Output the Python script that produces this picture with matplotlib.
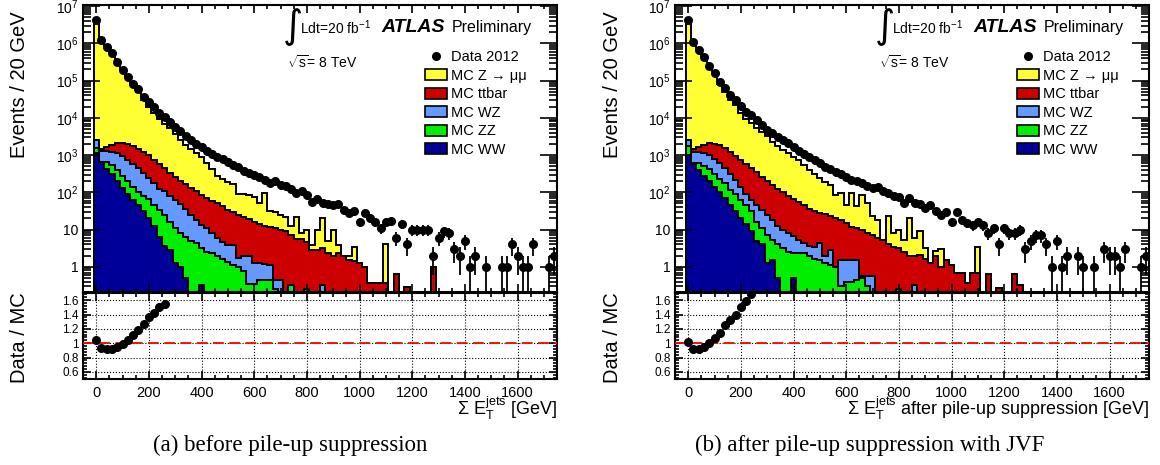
import numpy as np
import matplotlib
matplotlib.use("Agg")
import matplotlib.pyplot as plt
from matplotlib.patches import Patch
from matplotlib.lines import Line2D
from matplotlib.ticker import LogLocator, MultipleLocator, FuncFormatter, NullFormatter, FixedLocator

plt.rcParams['font.family'] = ['Liberation Sans', 'DejaVu Sans']
plt.rcParams['mathtext.fontset'] = 'custom'
plt.rcParams['mathtext.rm'] = 'Liberation Sans'
plt.rcParams['mathtext.it'] = 'Liberation Sans:italic'
plt.rcParams['mathtext.bf'] = 'Liberation Sans:bold'

# 20 GeV bins, centres 0 ... 1740
bin_edges = np.arange(-10, 1751, 20)
bin_centers = np.arange(0, 1741, 20)

# ---- (a) before pile-up suppression ----
a_data = [4.2e6, 1.26e6, 8.1e5, 5.4e5, 3.2e5, 1.9e5, 1.26e5, 8.3e4, 5.8e4, 3.7e4,
          2.7e4, 1.9e4, 1.38e4, 1.03e4, 7900, 5800, 4500, 3200, 2500, 2000,
          1600, 1300, 1100, 910, 770, 660, 550, 470, 380, 325,
          295, 252, 214, 182, 205, 155, 150, 120, 98, 105,
          85, 56, 65, 51, 49, 46, 48, 34, 27, 32,
          16, 27, 21, 16, 11, 16, 17, 6, 14, 4,
          10, 10, 10, 10, 2, 6, 9, 8, 3, 2,
          5, 1, 2, 0, 1, 0, 0, 1, 1, 4,
          2, 1, 1, 4, 0, 0, 1, 2]
a_ratio = [1.047, 0.935, 0.916, 0.916, 0.95, 0.986, 1.047, 1.11, 1.177, 1.27, 1.367, 1.42, 1.51, 1.544]

# stack heights (cumulative, as drawn): Z->mumu on top of ttbar on top of WZ on top of ZZ on top of WW
a_zmumu = [4.0e6, 1.35e6, 8.85e5, 5.9e5, 3.4e5, 1.94e5, 1.21e5, 7.5e4, 4.96e4, 2.94e4,
           1.99e4, 1.35e4, 9200, 6700, 5200, 3700, 2600, 1900, 1480, 1150,
           890, 630, 420, 280, 224, 190, 166, 89, 89, 85,
           76, 51, 95, 32, 30, 25, 22, 12.6, 22, 7.9,
           9.8, 3.9, 9.8, 20, 5.0, 10, 3.9, 1.9, 2.0, 3.5,
           1.26, 1.0, 0.36, 0.36, 0.36, 4.0, 0, 0.62, 0, 0.28,
           0, 0, 0, 0, 1.0, 0, 0, 0, 0, 0,
           0, 0, 0, 0, 0, 0, 0, 0, 0, 0,
           0, 0, 0, 0, 0, 0, 0, 0]
a_ttbar = [2512, 1413, 1660, 1905, 2089, 2138, 1995, 1738, 1479, 1230,
           1000, 759, 575, 447, 339, 257, 204, 162, 132, 105,
           85, 69, 59, 51, 42, 34, 29, 24.5, 21.4, 18.6,
           15.8, 14.5, 12.6, 11.5, 11, 10, 9.3, 7.0, 5.5, 5.5,
           4.6, 2.9, 2.8, 3.2, 2.34, 2.0, 2.34, 1.9, 1.55, 1.41,
           1.26, 1.0, 0.36, 0.36, 0.36, 0.36, 0, 0.62, 0, 0.28,
           0, 0, 0, 0, 1.0, 0, 0, 0, 0, 0,
           0, 0, 0, 0, 0, 0, 0, 0, 0, 0,
           0, 0, 0, 0, 0, 0, 0, 0]
a_wz = [2512, 1318, 1259, 1230, 1122, 955, 759, 575, 437, 331,
        240, 178, 126, 105, 79, 63, 48, 35.5, 25, 18.2,
        13.2, 11, 7.9, 5.9, 4.5, 3.9, 3.9, 1.7, 1.9, 1.9,
        1.26, 1.26, 1.2, 1.1, 0.45, 0.45, 0, 0, 0, 0,
        0, 0, 0, 0.32, 0, 0, 0, 0, 0, 0,
        0, 0, 0, 0, 0, 0, 0, 0, 0, 0,
        0, 0, 0, 0, 0, 0, 0, 0, 0, 0,
        0, 0, 0, 0, 0, 0, 0, 0, 0, 0,
        0, 0, 0, 0, 0, 0, 0, 0]
a_zz = [1514, 661, 631, 525, 398, 282, 200, 141, 100, 78,
        65, 45, 33, 24, 16, 11, 7.9, 6.3, 5.0, 4.4,
        3.16, 2.5, 2.34, 2.0, 1.58, 1.32, 1.12, 1.0, 0.79, 0.35,
        0.35, 0.45, 0.45, 0.45, 0.25, 0, 0, 0.32, 0, 0,
        0.25, 0, 0, 0, 0, 0, 0, 0, 0, 0,
        0, 0, 0, 0, 0, 0, 0, 0, 0, 0,
        0, 0, 0, 0, 0, 0, 0, 0, 0, 0,
        0, 0, 0, 0, 0, 0, 0, 0, 0, 0,
        0, 0, 0, 0, 0, 0, 0, 0]
a_ww = [1122, 631, 417, 302, 200, 132, 89, 63, 45, 31.6,
        20, 12.6, 6.3, 3.55, 2.8, 1.26, 1.0, 0.5, 0, 0,
        0.32, 0, 0, 0, 0, 0, 0, 0, 0, 0,
        0, 0, 0, 0, 0, 0, 0, 0, 0, 0,
        0, 0, 0, 0, 0, 0, 0, 0, 0, 0,
        0, 0, 0, 0, 0, 0, 0, 0, 0, 0,
        0, 0, 0, 0, 0, 0, 0, 0, 0, 0,
        0, 0, 0, 0, 0, 0, 0, 0, 0, 0,
        0, 0, 0, 0, 0, 0, 0, 0]

# ---- (b) after pile-up suppression with JVF ----
b_data = [4.2e6, 1.1e6, 6.6e5, 4.4e5, 2.45e5, 1.62e5, 9.3e4, 6.2e4, 4.1e4, 3.0e4,
          2.1e4, 1.45e4, 1.2e4, 8700, 6500, 4700, 3800, 3100, 2500, 2100,
          1600, 1300, 1070, 910, 740, 600, 490, 420, 360, 310,
          263, 214, 195, 174, 148, 129, 141, 105, 95, 78,
          76, 51, 69, 51, 49, 37, 46, 32, 25, 29,
          16, 30, 18, 15, 13, 16, 13, 8, 11, 4,
          11, 8, 8, 10, 3, 5, 7, 7, 4, 1,
          5, 1, 2, 0, 2, 1, 0, 1, 0, 3,
          2, 2, 1, 3, 0, 0, 1, 2]
b_ratio = [1.02, 0.925, 0.925, 0.95, 1.0, 1.075, 1.145, 1.25, 1.33, 1.40, 1.51, 1.59, 1.68]

b_zmumu = [4.1e6, 1.19e6, 7.1e5, 4.6e5, 2.45e5, 1.51e5, 8.1e4, 4.9e4, 3.06e4, 2.15e4,
           1.38e4, 9100, 7100, 5400, 4200, 3160, 2240, 1780, 1380, 1120,
           890, 740, 525, 398, 302, 240, 190, 158, 85, 95,
           46, 95, 42, 85, 51, 22.4, 18.2, 5.2, 22.4, 7.9,
           10, 5.2, 20.4, 5.75, 8.9, 3.16, 1.26, 2.57, 3.0, 1.55,
           1.12, 0.68, 0.69, 0.36, 0.69, 3.47, 0, 0.62, 0, 0.27,
           0, 0, 0.62, 0.33, 0, 0, 0, 0, 0, 0,
           0, 0, 0, 0, 0, 0, 0, 0, 0, 0,
           0, 0, 0, 0, 0, 0, 0, 0]
b_ttbar = [2512, 1413, 1660, 1905, 2138, 2042, 1862, 1514, 1175, 955,
           759, 589, 457, 347, 263, 204, 158, 126, 102, 79,
           66, 55, 45, 36, 31.6, 28, 25.7, 23, 20.4, 18.2,
           14.8, 12, 11, 9.8, 8.3, 7.2, 6.0, 5.2, 4.0, 3.47,
           3.16, 2.5, 2.0, 1.9, 2.1, 1.58, 1.26, 1.9, 1.0, 1.55,
           1.12, 0.68, 0.69, 0.36, 0.69, 0.69, 0, 0.62, 0, 0.27,
           0, 0, 0.62, 0.33, 0, 0, 0, 0, 0, 0,
           0, 0, 0, 0, 0, 0, 0, 0, 0, 0,
           0, 0, 0, 0, 0, 0, 0, 0]
b_wz = [2512, 1202, 1202, 1148, 1000, 794, 603, 447, 316, 214,
        141, 90, 63, 45, 34, 25, 18.2, 12.6, 9.8, 7.9,
        6.5, 5.2, 4.4, 3.55, 3.47, 4.4, 1.9, 2.8, 1.0, 1.55,
        1.55, 1.55, 1.55, 0.55, 0.55, 0.55, 0, 0, 0, 0,
        0, 0, 0, 0.32, 0, 0, 0, 0, 0, 0,
        0, 0, 0, 0, 0, 0, 0, 0, 0, 0,
        0, 0, 0, 0, 0, 0, 0, 0, 0, 0,
        0, 0, 0, 0, 0, 0, 0, 0, 0, 0,
        0, 0, 0, 0, 0, 0, 0, 0]
b_zz = [1698, 603, 603, 501, 417, 316, 224, 178, 112, 89,
        63, 45, 32, 15.8, 11.2, 7.1, 5.2, 4.0, 3.16, 2.5,
        2.34, 2.34, 2.34, 2.0, 1.58, 1.55, 1.26, 1.12, 1.0, 0.3,
        0.4, 0.4, 0.45, 0.5, 0.3, 0, 0, 0, 0, 0,
        0.25, 0, 0, 0, 0, 0, 0, 0, 0, 0,
        0, 0, 0, 0, 0, 0, 0, 0, 0, 0,
        0, 0, 0, 0, 0, 0, 0, 0, 0, 0,
        0, 0, 0, 0, 0, 0, 0, 0, 0, 0,
        0, 0, 0, 0, 0, 0, 0, 0]
b_ww = [1000, 562, 398, 282, 200, 141, 100, 71, 45, 31.6,
        20, 14.1, 8.9, 5.0, 4.0, 1.26, 1.5, 0.5, 0, 0,
        0.5, 0, 0, 0, 0, 0, 0, 0, 0, 0,
        0, 0, 0, 0, 0, 0, 0, 0, 0, 0,
        0, 0, 0, 0, 0, 0, 0, 0, 0, 0,
        0, 0, 0, 0, 0, 0, 0, 0, 0, 0,
        0, 0, 0, 0, 0, 0, 0, 0, 0, 0,
        0, 0, 0, 0, 0, 0, 0, 0, 0, 0,
        0, 0, 0, 0, 0, 0, 0, 0]

labels = ['MC Z \u2192 \u03bc\u03bc', 'MC ttbar', 'MC WZ', 'MC ZZ', 'MC WW']
colors = ['#ffff33', '#cc0000', '#6699ff', '#00ee00', '#000099']

W, H = 1160, 465
fig = plt.figure(figsize=(W / 100, H / 100), dpi=100)
FLOOR = 1e-3


def log_label(v, pos):
    if abs(v - 1) < 1e-9:
        return '1'
    if abs(v - 10) < 1e-9:
        return '10'
    return r'$\mathregular{10^{%d}}$' % round(np.log10(v))


def draw_panel(x0, data, ratio, stacks, xlabel, caption, cap_x):
    ax = fig.add_axes([x0 / W, 1 - 292 / H, 474 / W, 287 / H])
    rax = fig.add_axes([x0 / W, 1 - 379 / H, 474 / W, 86 / H])

    for vals, col in zip(stacks, colors):
        v = np.maximum(np.asarray(vals, float), FLOOR)
        ax.stairs(v, bin_edges, baseline=FLOOR, fill=True, color=col, lw=0)
        ax.stairs(v, bin_edges, baseline=FLOOR, color='black', lw=1.4)

    d = np.asarray(data, float)
    m = d > 0
    ax.errorbar(bin_centers[m], d[m], yerr=np.sqrt(d[m]), fmt='o', color='black',
                ms=5.5, elinewidth=1.3, capsize=0, zorder=5)

    ax.set_yscale('log')
    ax.set_xlim(-50, 1750)
    ax.set_ylim(0.21, 1.07e7)
    ax.yaxis.set_major_locator(LogLocator(base=10, numticks=15))
    ax.yaxis.set_minor_locator(LogLocator(base=10, subs=np.arange(2, 10), numticks=15))
    ax.yaxis.set_major_formatter(FuncFormatter(log_label))
    ax.yaxis.set_minor_formatter(NullFormatter())
    ax.xaxis.set_major_locator(MultipleLocator(200))
    ax.xaxis.set_minor_locator(MultipleLocator(50))
    ax.tick_params(axis='both', which='both', direction='in', top=True, right=True,
                   labelbottom=False, labelsize=10, width=1.2)
    ax.tick_params(axis='y', which='major', length=12)
    ax.tick_params(axis='y', which='minor', length=6, labelleft=False)
    ax.tick_params(axis='x', which='major', length=6)
    ax.tick_params(axis='x', which='minor', length=3)
    for s in ax.spines.values():
        s.set_linewidth(1.5)

    # annotations
    ax.text(0.443, 0.925, '\u222b', transform=ax.transAxes, fontsize=28,
            family=['DejaVu Sans'], ha='center', va='center')
    ax.text(0.458, 0.922, r'Ldt=20 fb$^{\mathregular{-1}}$', transform=ax.transAxes,
            fontsize=10, ha='left', va='center')
    ax.text(0.629, 0.922, 'ATLAS', transform=ax.transAxes, fontsize=14,
            fontweight='bold', fontstyle='italic', ha='left', va='center')
    ax.text(0.778, 0.922, 'Preliminary', transform=ax.transAxes, fontsize=11.5,
            ha='left', va='center')
    ax.text(0.430, 0.801, r'$\sqrt{\mathregular{s}}$= 8 TeV', transform=ax.transAxes,
            fontsize=10, ha='left', va='center')

    handles = [Line2D([], [], marker='o', color='black', ls='none', ms=5.5)]
    handles += [Patch(facecolor=c, edgecolor='black', lw=1.2) for c in colors]
    ax.legend(handles, ['Data 2012'] + labels, loc='upper left',
              bbox_to_anchor=(0.7215, 0.843), frameon=False, fontsize=10.5,
              handlelength=1.5, handleheight=0.78, handletextpad=0.3,
              labelspacing=0.31, borderpad=0, borderaxespad=0)

    # ratio panel
    rx = bin_centers[:len(ratio)]
    rax.plot(rx, ratio, 'o', color='black', ms=5.5, zorder=5)
    rax.axhline(1.0, color='red', ls=(0, (6, 3)), lw=1.3, zorder=4)
    rax.set_xlim(-50, 1750)
    rax.set_ylim(0.5, 1.7)
    rax.yaxis.set_major_locator(FixedLocator([0.6, 0.8, 1.0, 1.2, 1.4, 1.6]))
    rax.yaxis.set_major_formatter(FuncFormatter(lambda v, p: '%g' % round(v, 1)))
    rax.yaxis.set_minor_locator(MultipleLocator(0.04))
    rax.xaxis.set_major_locator(MultipleLocator(200))
    rax.xaxis.set_minor_locator(MultipleLocator(50))
    rax.grid(True, which='major', ls=':', color='black', lw=0.8)
    rax.tick_params(axis='both', which='both', direction='in', top=True, right=True, width=1.2)
    rax.tick_params(axis='y', which='major', length=6, labelsize=8.5, pad=3)
    rax.tick_params(axis='y', which='minor', length=3, labelleft=False)
    rax.tick_params(axis='x', which='major', length=6, labelsize=10.5, pad=5)
    rax.tick_params(axis='x', which='minor', length=3, labelbottom=False)
    for s in rax.spines.values():
        s.set_linewidth(1.5)

    # axis titles
    fig.text((x0 - 63) / W, 1 - 11 / H, 'Events / 20 GeV', rotation=90,
             ha='center', va='top', fontsize=14.5)
    fig.text((x0 - 63) / W, 1 - 338 / H, 'Data / MC', rotation=90,
             ha='center', va='center', fontsize=14.5)
    fig.text((x0 + 474) / W, 1 - 408 / H, xlabel, ha='right', va='center', fontsize=13)
    fig.text(cap_x / W, 1 - 445 / H, caption, ha='center', va='center',
             fontsize=16.5, family=['Liberation Serif'])


draw_panel(83, a_data, a_ratio, [a_zmumu, a_ttbar, a_wz, a_zz, a_ww],
           r'$\Sigma\ \mathregular{E_{T}^{jets}}$ [GeV]',
           '(a) before pile-up suppression', 290)
draw_panel(675, b_data, b_ratio, [b_zmumu, b_ttbar, b_wz, b_zz, b_ww],
           r'$\Sigma\ \mathregular{E_{T}^{jets}}$ after pile-up suppression [GeV]',
           '(b) after pile-up suppression with JVF', 870)

fig.savefig('out.png', dpi=100)
